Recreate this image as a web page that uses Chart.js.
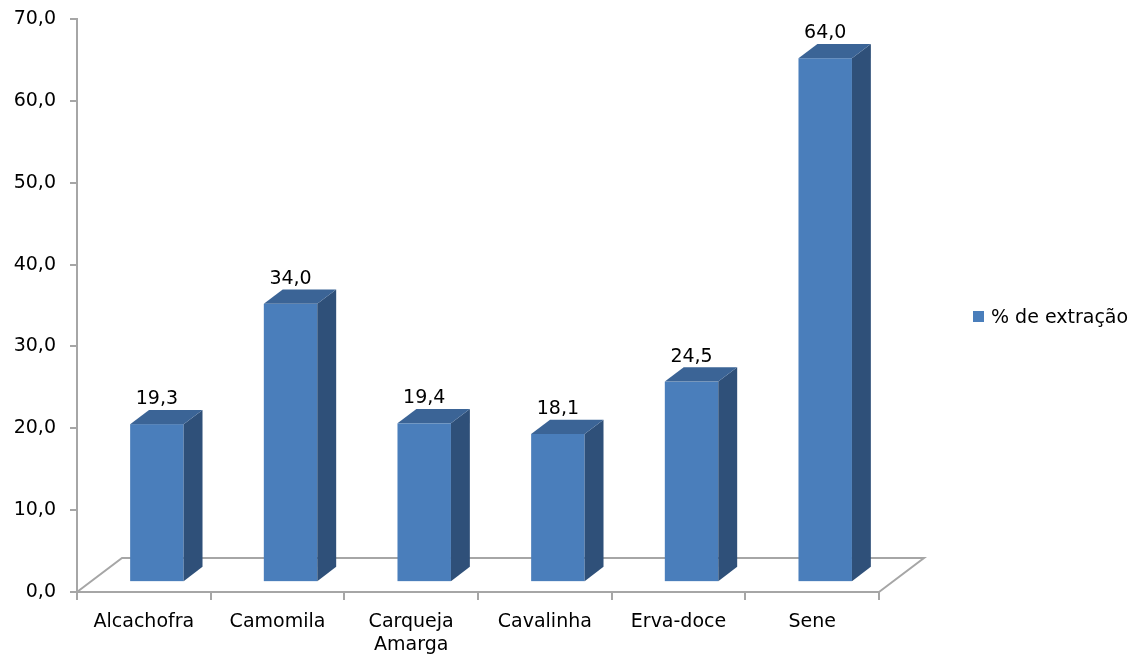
<!DOCTYPE html>
<html>
<head>
<meta charset="utf-8">
<script src="https://cdn.jsdelivr.net/npm/chart.js@4/dist/chart.umd.min.js"></script>
<style>
  body { margin: 0; background: #fff; }
  #wrap { width: 1131px; height: 659px; position: relative; }
</style>
</head>
<body>
<div id="wrap"><canvas id="extracaoChart"></canvas></div>
<script>
// dados
const plantas = ["Alcachofra", "Camomila", ["Carqueja", "Amarga"], "Cavalinha", "Erva-doce", "Sene"];
const extracao = [19.3, 34.0, 19.4, 18.1, 24.5, 64.0];
const serieNome = "% de extração";
const eixoMax = 70;
const eixoPasso = 10;

// cores das faces
const corFrente = "#4A7EBB";
const corTopo = "#3B6496";
const corLado = "#2F5079";
const corEixo = "#A6A6A6";
const fonte = "'DejaVu Sans', Verdana, sans-serif";

// profundidade do "chão" 3D
const PROF_X = 45, PROF_Y = -34;
const FRENTE = 0.29, FUNDO = 0.71;

function virgula(v) {
    return v.toFixed(1).replace(".", ",");
}

const barras3d = {
    id: "barras3d",
    beforeDatasetsDraw(chart) {
        const ctx = chart.ctx;
        const area = chart.chartArea;

        // chão (arestas de trás)
        ctx.save();
        ctx.strokeStyle = corEixo;
        ctx.lineWidth = 2;
        ctx.beginPath();
        ctx.moveTo(area.left, area.bottom);
        ctx.lineTo(area.left + PROF_X, area.bottom + PROF_Y);
        ctx.lineTo(area.right + PROF_X, area.bottom + PROF_Y);
        ctx.lineTo(area.right, area.bottom);
        ctx.stroke();
        ctx.restore();

        const meta = chart.getDatasetMeta(0);
        const fx = PROF_X * FRENTE, fy = PROF_Y * FRENTE;
        const lx = PROF_X * (FUNDO - FRENTE), ly = PROF_Y * (FUNDO - FRENTE);

        meta.data.forEach((bar, i) => {
            const p = bar.getProps(["x", "y", "base", "width"], true);
            const x0 = p.x - p.width / 2 + fx;
            const x1 = p.x + p.width / 2 + fx;
            const yt = p.y + fy;
            const yb = p.base + fy;

            // frente
            ctx.fillStyle = corFrente;
            ctx.fillRect(x0, yt, x1 - x0, yb - yt);

            // lado
            ctx.fillStyle = corLado;
            ctx.beginPath();
            ctx.moveTo(x1, yt);
            ctx.lineTo(x1 + lx, yt + ly);
            ctx.lineTo(x1 + lx, yb + ly);
            ctx.lineTo(x1, yb);
            ctx.closePath();
            ctx.fill();

            // topo
            ctx.fillStyle = corTopo;
            ctx.beginPath();
            ctx.moveTo(x0, yt);
            ctx.lineTo(x0 + lx, yt + ly);
            ctx.lineTo(x1 + lx, yt + ly);
            ctx.lineTo(x1, yt);
            ctx.closePath();
            ctx.fill();

            // rótulo de valor
            ctx.fillStyle = "#000";
            ctx.font = "19px " + fonte;
            ctx.textAlign = "center";
            ctx.textBaseline = "middle";
            ctx.fillText(virgula(extracao[i]), (x0 + x1) / 2, yt - 25);
        });

        return false;
    },
    afterDraw(chart) {
        // legenda
        const ctx = chart.ctx;
        ctx.save();
        ctx.fillStyle = corFrente;
        ctx.fillRect(973, 311, 11, 11);
        ctx.fillStyle = "#000";
        ctx.font = "19px " + fonte;
        ctx.textAlign = "left";
        ctx.textBaseline = "middle";
        ctx.fillText(serieNome, 991, 318);
        ctx.restore();
    }
};

new Chart(document.getElementById("extracaoChart"), {
    type: "bar",
    data: {
        labels: plantas,
        datasets: [{
            label: serieNome,
            data: extracao,
            backgroundColor: corFrente,
            barPercentage: 0.4,
            categoryPercentage: 1
        }]
    },
    options: {
        responsive: true,
        maintainAspectRatio: false,
        animation: false,
        layout: {
            padding: { top: 19, right: 252, left: 0, bottom: 0 }
        },
        plugins: {
            legend: { display: false },
            tooltip: { enabled: false }
        },
        scales: {
            x: {
                offset: true,
                grid: {
                    offset: true,
                    drawOnChartArea: false,
                    drawTicks: true,
                    tickLength: 8,
                    color: corEixo,
                    lineWidth: 2
                },
                border: { display: true, color: corEixo, width: 2 },
                ticks: {
                    color: "#000",
                    font: { family: fonte, size: 19 },
                    padding: 11,
                    maxRotation: 0
                },
                afterFit(scale) {
                    scale.height = 67;
                    scale.paddingLeft = 0;
                    scale.paddingRight = 0;
                }
            },
            y: {
                min: 0,
                max: eixoMax,
                grid: {
                    drawOnChartArea: false,
                    drawTicks: true,
                    tickLength: 7,
                    color: corEixo,
                    lineWidth: 2
                },
                border: { display: true, color: corEixo, width: 2 },
                ticks: {
                    stepSize: eixoPasso,
                    color: "#000",
                    font: { family: fonte, size: 19 },
                    padding: 14,
                    callback: (v) => virgula(v)
                },
                afterFit(scale) {
                    scale.width = 77;
                    scale.paddingTop = 0;
                    scale.paddingBottom = 0;
                }
            }
        }
    },
    plugins: [barras3d]
});
</script>
</body>
</html>
